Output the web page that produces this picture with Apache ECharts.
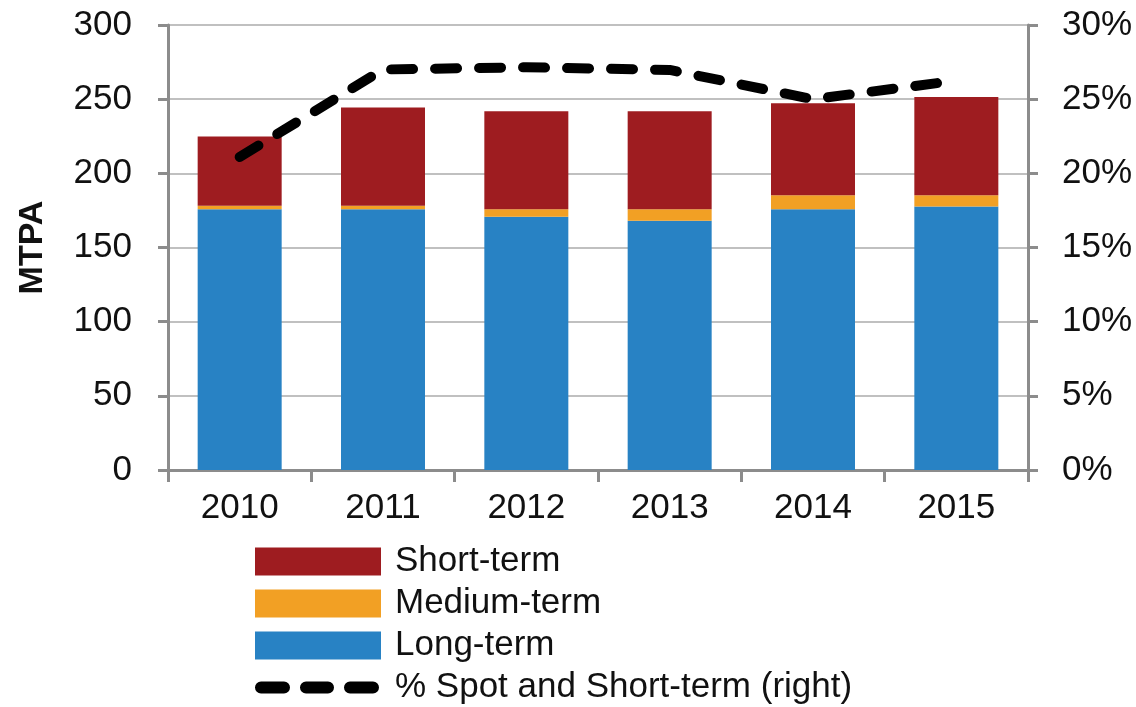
<!DOCTYPE html>
<html>
<head>
<meta charset="utf-8">
<script src="https://cdn.jsdelivr.net/npm/echarts@6/dist/echarts.min.js"></script>
<style>
  html, body { margin: 0; padding: 0; background: #fff; }
  #chart { width: 1136px; height: 707px; }
</style>
</head>
<body>
<div id="chart"></div>
<script>
var years = ['2010', '2011', '2012', '2013', '2014', '2015'];
var longTerm = [175.8, 175.8, 170.8, 168.1, 175.8, 177.6];
var mediumTerm = [2.4, 2.4, 5.0, 7.7, 9.4, 7.6];
var shortTerm = [46.6, 66.1, 66.1, 66.1, 62.1, 66.3];
var spotShare = [21.1, 27.0, 27.15, 26.97, 25.0, 26.25];

var axisGrey = '#8c8c8c';
var font = 'Liberation Sans, Arial, sans-serif';

// three rounded dashes for the line's legend swatch (box 126 x 28)
function pill(x0, x1) {
  return 'M' + (x0 + 6) + ',8 L' + (x1 - 6) + ',8 A6,6 0 0 1 ' + (x1 - 6) + ',20 L' + (x0 + 6) + ',20 A6,6 0 0 1 ' + (x0 + 6) + ',8 Z ';
}
var dashIcon = 'path://M0,0 L0,0 M126,28 L126,28 ' + pill(0, 35) + pill(45, 79) + pill(89, 124);

var chart = echarts.init(document.getElementById('chart'));
chart.setOption({
  animation: false,
  textStyle: { fontFamily: font },
  grid: { left: 168, right: 108, top: 25, bottom: 237 },
  legend: {
    orient: 'vertical',
    left: 255,
    top: 544,
    height: 165,
    padding: 0,
    itemWidth: 126,
    itemHeight: 28,
    itemGap: 7,
    icon: 'rect',
    textStyle: { fontSize: 35, color: '#111', fontFamily: font, padding: [0, 0, 0, 9] },
    data: [
      { name: 'Short-term' },
      { name: 'Medium-term' },
      { name: 'Long-term' },
      { name: '% Spot and Short-term (right)', icon: dashIcon, itemStyle: { color: '#000' } }
    ]
  },
  xAxis: {
    type: 'category',
    data: years,
    axisLine: { lineStyle: { color: axisGrey, width: 3 } },
    axisTick: { show: true, length: 12, lineStyle: { color: axisGrey, width: 3 } },
    axisLabel: { fontSize: 35, color: '#111', margin: 21, fontFamily: font }
  },
  yAxis: [
    {
      type: 'value',
      min: 0, max: 300, interval: 50,
      name: 'MTPA',
      nameLocation: 'middle',
      nameGap: 118,
      nameRotate: 90,
      nameTextStyle: { fontSize: 34, fontWeight: 'bold', color: '#111', fontFamily: font },
      axisLine: { show: true, lineStyle: { color: axisGrey, width: 3 } },
      axisTick: { show: true, length: 10, lineStyle: { color: axisGrey, width: 3 } },
      axisLabel: { fontSize: 35, color: '#111', margin: 36, fontFamily: font },
      splitLine: { lineStyle: { color: '#c0c0c0', width: 2 } }
    },
    {
      type: 'value',
      min: 0, max: 30, interval: 5,
      position: 'right',
      axisLine: { show: true, lineStyle: { color: axisGrey, width: 3 } },
      axisTick: { show: true, length: 10, lineStyle: { color: axisGrey, width: 3 } },
      axisLabel: { fontSize: 35, color: '#111', margin: 34, formatter: '{value}%', fontFamily: font },
      splitLine: { show: false }
    }
  ],
  series: [
    {
      name: 'Long-term', type: 'bar', stack: 'vol', barWidth: 84,
      itemStyle: { color: '#2882c4' }, data: longTerm
    },
    {
      name: 'Medium-term', type: 'bar', stack: 'vol', barWidth: 84,
      itemStyle: { color: '#f2a024' }, data: mediumTerm
    },
    {
      name: 'Short-term', type: 'bar', stack: 'vol', barWidth: 84,
      itemStyle: { color: '#9e1c20' }, data: shortTerm
    },
    {
      name: '% Spot and Short-term (right)', type: 'line', yAxisIndex: 1,
      symbol: 'none', z: 10,
      lineStyle: { color: '#000', width: 10, type: [22, 22], cap: 'round', join: 'round' },
      itemStyle: { color: '#000' },
      data: spotShare
    }
  ]
});
</script>
</body>
</html>
